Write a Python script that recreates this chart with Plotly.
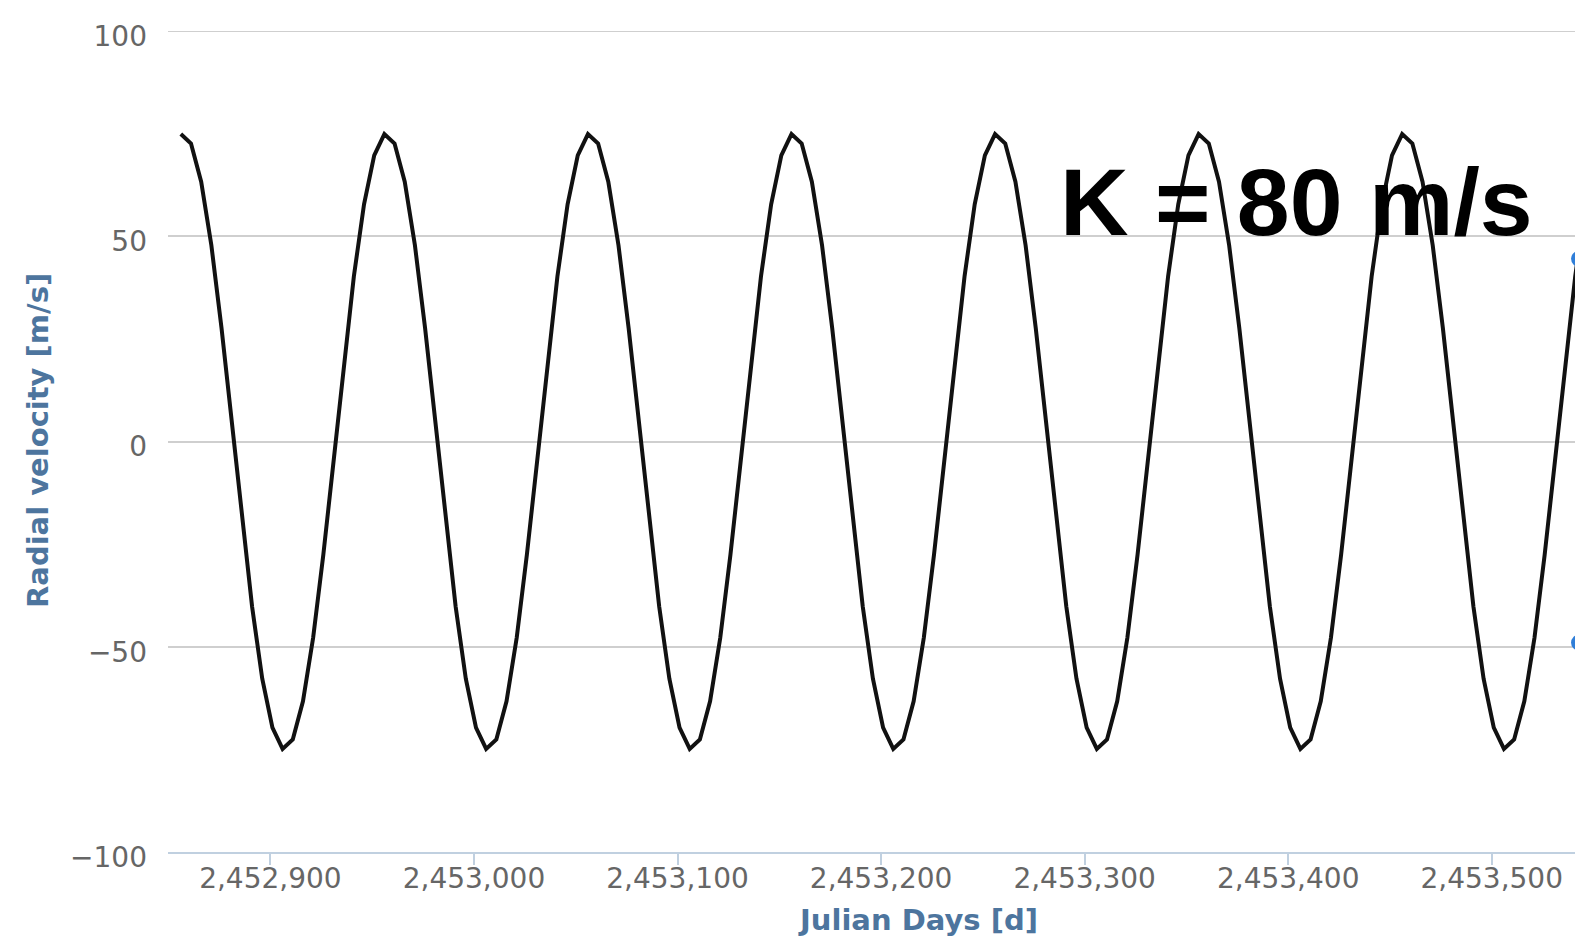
import plotly.graph_objects as go

# Sampled radial-velocity curve (Julian day, m/s)
julian_days = [
    2452856, 2452861, 2452866, 2452871, 2452876, 2452881, 2452886, 2452891, 2452896, 2452901,
    2452906, 2452911, 2452916, 2452921, 2452926, 2452931, 2452936, 2452941, 2452946, 2452951,
    2452956, 2452961, 2452966, 2452971, 2452976, 2452981, 2452986, 2452991, 2452996, 2453001,
    2453006, 2453011, 2453016, 2453021, 2453026, 2453031, 2453036, 2453041, 2453046, 2453051,
    2453056, 2453061, 2453066, 2453071, 2453076, 2453081, 2453086, 2453091, 2453096, 2453101,
    2453106, 2453111, 2453116, 2453121, 2453126, 2453131, 2453136, 2453141, 2453146, 2453151,
    2453156, 2453161, 2453166, 2453171, 2453176, 2453181, 2453186, 2453191, 2453196, 2453201,
    2453206, 2453211, 2453216, 2453221, 2453226, 2453231, 2453236, 2453241, 2453246, 2453251,
    2453256, 2453261, 2453266, 2453271, 2453276, 2453281, 2453286, 2453291, 2453296, 2453301,
    2453306, 2453311, 2453316, 2453321, 2453326, 2453331, 2453336, 2453341, 2453346, 2453351,
    2453356, 2453361, 2453366, 2453371, 2453376, 2453381, 2453386, 2453391, 2453396, 2453401,
    2453406, 2453411, 2453416, 2453421, 2453426, 2453431, 2453436, 2453441, 2453446, 2453451,
    2453456, 2453461, 2453466, 2453471, 2453476, 2453481, 2453486, 2453491, 2453496, 2453501,
    2453506, 2453511, 2453516, 2453521, 2453526, 2453531, 2453536, 2453541, 2453546,
]
radial_velocity = [
    74.9, 72.6, 63.3, 47.8, 27.6, 4.7, -18.7, -40.2, -57.8, -69.7,
    -74.9, -72.6, -63.3, -47.8, -27.6, -4.7, 18.7, 40.2, 57.8, 69.7,
    74.9, 72.6, 63.3, 47.8, 27.6, 4.7, -18.7, -40.2, -57.8, -69.7,
    -74.9, -72.6, -63.3, -47.8, -27.6, -4.7, 18.7, 40.2, 57.8, 69.7,
    74.9, 72.6, 63.3, 47.8, 27.6, 4.7, -18.7, -40.2, -57.8, -69.7,
    -74.9, -72.6, -63.3, -47.8, -27.6, -4.7, 18.7, 40.2, 57.8, 69.7,
    74.9, 72.6, 63.3, 47.8, 27.6, 4.7, -18.7, -40.2, -57.8, -69.7,
    -74.9, -72.6, -63.3, -47.8, -27.6, -4.7, 18.7, 40.2, 57.8, 69.7,
    74.9, 72.6, 63.3, 47.8, 27.6, 4.7, -18.7, -40.2, -57.8, -69.7,
    -74.9, -72.6, -63.3, -47.8, -27.6, -4.7, 18.7, 40.2, 57.8, 69.7,
    74.9, 72.6, 63.3, 47.8, 27.6, 4.7, -18.7, -40.2, -57.8, -69.7,
    -74.9, -72.6, -63.3, -47.8, -27.6, -4.7, 18.7, 40.2, 57.8, 69.7,
    74.9, 72.6, 63.3, 47.8, 27.6, 4.7, -18.7, -40.2, -57.8, -69.7,
    -74.9, -72.6, -63.3, -47.8, -27.6, -4.7, 18.7, 40.2, 57.8,
]

# Measured points sitting just past the right edge of the plot
edge_days = [2453542.9, 2453542.9]
edge_velocity = [44.5, -49.0]

x_ticks = [2452900, 2453000, 2453100, 2453200, 2453300, 2453400, 2453500]
y_ticks = [-100, -50, 0, 50, 100]

semi_amplitude_label = "K = 80 m/s"
x_title = "Julian Days [d]"
y_title = "Radial velocity [m/s]"

GRID_COLOR = "#cfcfcf"
TICK_FONT = dict(family="DejaVu Sans", size=28, color="#666666")
TITLE_FONT = dict(family="DejaVu Sans", size=29, color="#4d759e", weight="bold")

fig = go.Figure()

fig.add_trace(go.Scatter(
    x=julian_days, y=radial_velocity, mode="lines",
    line=dict(color="#111111", width=4),
    showlegend=False, hoverinfo="skip",
))
fig.add_trace(go.Scatter(
    x=edge_days, y=edge_velocity, mode="markers",
    marker=dict(color="#2f7ed8", size=16),
    cliponaxis=True, showlegend=False, hoverinfo="skip",
))

# grid line along the top edge of the plot (y = 100)
fig.add_shape(type="line", xref="paper", yref="y", x0=0, x1=1, y0=100, y1=100,
              line=dict(color=GRID_COLOR, width=2), layer="below")

fig.update_layout(
    width=1582, height=940,
    margin=dict(l=168, r=7, t=31, b=88),
    paper_bgcolor="white", plot_bgcolor="white",
    xaxis=dict(
        range=[2452849.7, 2453540.9],
        tickvals=x_ticks, tickformat=",d",
        ticks="outside", ticklen=11, tickwidth=2, tickcolor="#c0d0e0",
        ticklabelstandoff=-11,
        showline=True, linecolor="#c0d0e0", linewidth=2,
        showgrid=False, zeroline=False,
        tickfont=TICK_FONT,
    ),
    yaxis=dict(
        range=[-100, 100],
        tickvals=y_ticks,
        showgrid=True, gridcolor=GRID_COLOR, gridwidth=2,
        zeroline=False, showline=False, ticks="",
        ticklabelstandoff=20, ticklabelshift=5,
        tickfont=TICK_FONT,
    ),
    annotations=[
        dict(text=semi_amplitude_label, xref="paper", yref="paper",
             x=0.6325, y=0.7923, xanchor="left", yanchor="middle",
             showarrow=False,
             font=dict(family="Liberation Sans", size=95, color="black", weight="bold")),
        dict(text=x_title, xref="paper", yref="paper",
             x=0.533, y=-0.0828, xanchor="center", yanchor="middle",
             showarrow=False, font=TITLE_FONT),
        dict(text=y_title, xref="paper", yref="paper",
             x=-0.0924, y=0.5018, xanchor="center", yanchor="middle",
             textangle=-90, showarrow=False, font=TITLE_FONT),
    ],
)

fig.write_html("out.html")
